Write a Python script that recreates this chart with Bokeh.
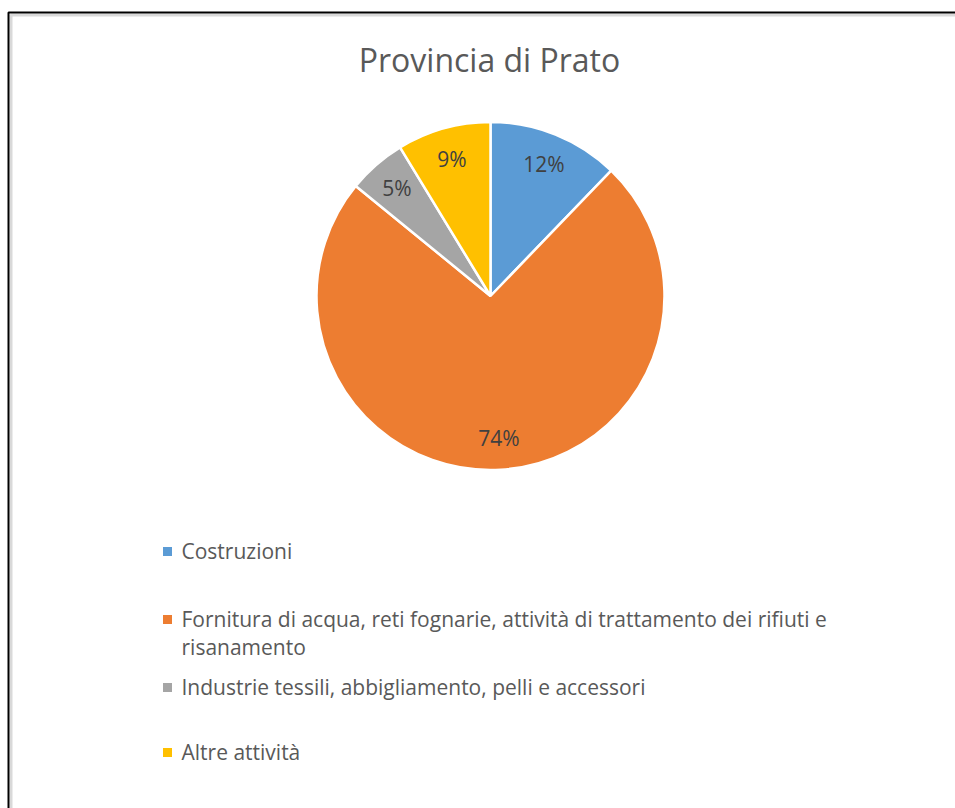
import math
from bokeh.plotting import figure
from bokeh.models import Range1d, ColumnDataSource
from bokeh.core.properties import value
from bokeh.embed import file_html
from bokeh.resources import INLINE

# ---- data ----
title = "Provincia di Prato"
categories = [
    "Costruzioni",
    "Fornitura di acqua, reti fognarie, attività di trattamento dei rifiuti e\nrisanamento",
    "Industrie tessili, abbigliamento, pelli e accessori",
    "Altre attività",
]
shares = [12.2, 73.7, 5.4, 8.7]
colors = ["#5B9BD5", "#ED7D31", "#A5A5A5", "#FFC000"]

# ---- layout (page pixels -> data units, 1:1) ----
W, H = 955, 808
def px(x):
    return x
def py(y):
    return H - y

FONT = value("Open Sans")

p = figure(width=W, height=H, output_backend="svg", toolbar_location=None,
           x_range=Range1d(0, W), y_range=Range1d(0, H), min_border=0,
           x_axis_location=None, y_axis_location=None)
p.grid.visible = False
p.outline_line_color = None
p.background_fill_color = "white"
p.border_fill_color = "white"

# frame of the chart area (only left and top visible)
p.line([px(10.5), px(10.5), px(1000)], [py(900), py(14.5), py(14.5)], line_color="#d9d9d9", line_width=3)
p.line([px(8), px(8), px(1000)], [py(900), py(12), py(12)], line_color="black", line_width=2)

# ---- pie ----
cx, cy, R = px(490), py(295.5), 174
total = sum(shares)
starts, ends, lx, ly, labels = [], [], [], [], []
cum = 0.0
for s in shares:
    a0 = math.pi / 2 - 2 * math.pi * cum / total
    a1 = math.pi / 2 - 2 * math.pi * (cum + s) / total
    starts.append(a1)
    ends.append(a0)
    mid = (a0 + a1) / 2
    r = 0.82 * R
    lx.append(cx + r * math.cos(mid))
    ly.append(cy + r * math.sin(mid))
    labels.append(f"{round(s / total * 100)}%")
    cum += s

src = ColumnDataSource(dict(start=starts, end=ends, color=colors))
p.wedge(x=cx, y=cy, radius=R, start_angle="start", end_angle="end",
        fill_color="color", line_color="white", line_width=2.5, source=src)

p.text(x=lx, y=ly, text=labels, text_font=FONT, text_font_size="21px",
       text_color="#404040", text_align="center", text_baseline="middle")

# ---- title ----
p.text(x=[px(489)], y=[py(59)], text=[title], text_font=FONT, text_font_size="32px",
       text_color="#595959", text_align="center", text_baseline="middle")

# ---- legend ----
row_mid = [550, 618, 686, 751]
line_gap = 28
sq_x, sq_y, tx_x, tx_y, tx = [], [], [], [], []
for cat, y in zip(categories, row_mid):
    sq_x.append(px(167))
    sq_y.append(py(y + 1))
    for k, line in enumerate(cat.split("\n")):
        tx_x.append(px(181))
        tx_y.append(py(y + k * line_gap))
        tx.append(line)
p.scatter(x=sq_x, y=sq_y, marker="square", size=9, fill_color=colors, line_color=None)
p.text(x=tx_x, y=tx_y, text=tx, text_font=FONT, text_font_size="21px",
       text_color="#595959", text_align="left", text_baseline="middle")

open("out.html", "w").write(file_html(p, INLINE))
